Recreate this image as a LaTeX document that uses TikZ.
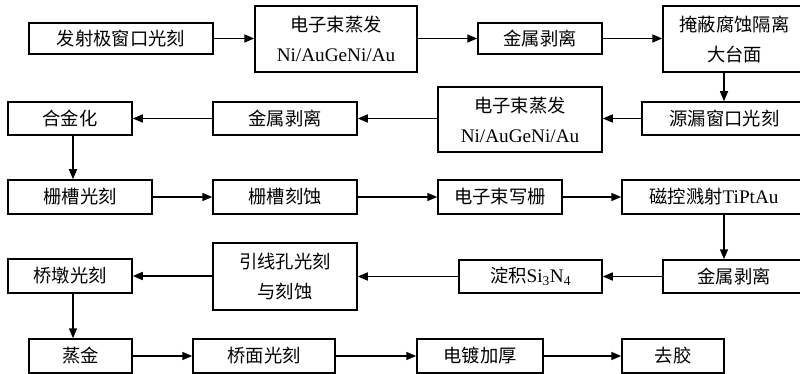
\documentclass[tikz,border=0pt]{standalone}
\usepackage{fontspec}
\setmainfont{Liberation Serif}[Scale=1.05]
\newfontfamily\cjk{Noto Sans CJK SC}
\usetikzlibrary{arrows.meta}
\begin{document}
\begin{tikzpicture}[x=1pt,y=-1pt,
  box/.style={draw=black,line width=1.5pt,inner sep=0pt,align=center,
    font=\fontsize{18.3}{30}\selectfont},
  arr/.style={line width=1.5pt,-{Triangle[length=10pt,width=8pt]}}]
\useasboundingbox (0,0) rectangle (800,374);
\clip (0,0) rectangle (800,374);
\fill[white] (0,0) rectangle (800,374);
% row 1
\node[box,minimum width=184,minimum height=31] (a1) at (121,38.5) {\cjk 发射极窗口光刻};
\node[box,minimum width=162,minimum height=66] (a2) at (336,39) {{\cjk 电子束蒸发}\\Ni/AuGeNi/Au};
\node[box,minimum width=124,minimum height=31] (a3) at (540,38.5) {\cjk 金属剥离};
\node[box,minimum width=143,minimum height=66] (a4) at (734.5,39) {\cjk 掩蔽腐蚀隔离\\\cjk 大台面};
% row 2
\node[box,minimum width=165,minimum height=33] (b1) at (724.5,118.5) {\cjk 源漏窗口光刻};
\node[box,minimum width=164,minimum height=65] (b2) at (520,119.5) {{\cjk 电子束蒸发}\\Ni/AuGeNi/Au};
\node[box,minimum width=144,minimum height=33] (b3) at (285,118.5) {\cjk 金属剥离};
\node[box,minimum width=124,minimum height=33] (b4) at (70,118.5) {\cjk 合金化};
% row 3
\node[box,minimum width=144,minimum height=34] (c1) at (80,197) {\cjk 栅槽光刻};
\node[box,minimum width=144,minimum height=34] (c2) at (285,197) {\cjk 栅槽刻蚀};
\node[box,minimum width=124,minimum height=34] (c3) at (500,197) {\cjk 电子束写栅};
\node[box,minimum width=184,minimum height=34] (c4) at (714,197) {{\cjk 磁控溅射}TiPtAu};
% row 4
\node[box,minimum width=142,minimum height=33] (d1) at (734,276.5) {\cjk 金属剥离};
\node[box,minimum width=143,minimum height=33] (d2) at (530.5,276.5) {{\cjk 淀积}Si\textsubscript{3}N\textsubscript{4}};
\node[box,minimum width=144,minimum height=67] (d3) at (285,276.5) {\cjk 引线孔光刻\\\cjk 与刻蚀};
\node[box,minimum width=124,minimum height=34] (d4) at (70,276) {\cjk 桥墩光刻};
% row 5
\node[box,minimum width=103,minimum height=34] (e1) at (80.5,356) {\cjk 蒸金};
\node[box,minimum width=142,minimum height=34] (e2) at (264,356) {\cjk 桥面光刻};
\node[box,minimum width=126,minimum height=34] (e3) at (480,356) {\cjk 电镀加厚};
\node[box,minimum width=102,minimum height=34] (e4) at (673,356) {\cjk 去胶};
% helper coordinates for vertical connectors
\coordinate (vr) at (724,0);
\coordinate (vl) at (73,0);
% connectors
\draw[arr] (a1.east) -- (a1.east -| a2.west);
\draw[arr] (a2.east |- a3.east) -- (a3.west);
\draw[arr] (a3.east) -- (a3.east -| a4.west);
\draw[arr] (a4.south -| vr) -- (b1.north -| vr);
\draw[arr] (b1.west) -- (b1.west -| b2.east);
\draw[arr] (b2.west |- b3.east) -- (b3.east);
\draw[arr] (b3.west) -- (b4.east);
\draw[arr] (b4.south -| vl) -- (c1.north -| vl);
\draw[arr] (c1.east) -- (c2.west);
\draw[arr] (c2.east) -- (c3.west);
\draw[arr] (c3.east) -- (c4.west);
\draw[arr] (c4.south -| vr) -- (d1.north -| vr);
\draw[arr] (d1.west) -- (d2.east);
\draw[arr] (d2.west) -- (d2.west -| d3.east);
\draw[arr] (d3.west |- d4.east) -- (d4.east);
\draw[arr] (d4.south -| vl) -- (e1.north -| vl);
\draw[arr] (e1.east) -- (e2.west);
\draw[arr] (e2.east) -- (e3.west);
\draw[arr] (e3.east) -- (e4.west);
\end{tikzpicture}
\end{document}
